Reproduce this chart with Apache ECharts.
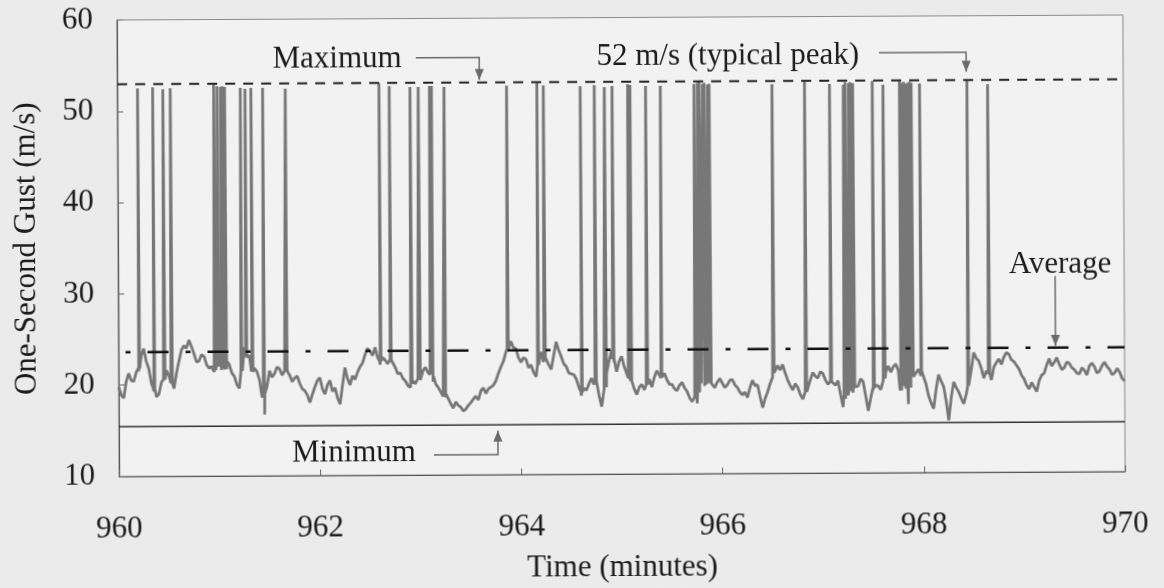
<!DOCTYPE html>
<html><head><meta charset="utf-8">
<script src="https://cdn.jsdelivr.net/npm/echarts@6/dist/echarts.min.js"></script>
<style>
html,body{margin:0;padding:0;background:#ebebeb;overflow:hidden;}
#c{width:1164px;height:588px;transform:rotate(-0.285deg);transform-origin:621px 246px;}
</style>
</head><body><div id="c"></div>
<script>
// ---- axis ticks ----
const xTickValues = [960, 962, 964, 966, 968, 970];
const yTickValues = [10, 20, 30, 40, 50, 60];

// ---- one-second gust record, read every 1.5 s from 960 min ----
const startMinute = 960;
const sampleSeconds = 3;
// readings at 0, 3, 6 ... s
const baseGust = [
  19.8, 18.6, 21.3, 20.4, 21.5, 24.0, 21.8, 19.3, 19.0, 20.8,
  21.0, 19.6, 22.6, 24.3, 24.9, 23.4, 22.6, 23.1, 21.8, 21.4,
  22.4, 21.8, 22.2, 20.9, 19.6, 24.1, 23.2, 21.8, 20.5, 16.7,
  21.5, 21.2, 21.7, 21.5, 21.0, 20.7, 20.1, 19.3, 18.0, 19.7,
  20.7, 18.9, 20.4, 19.6, 17.8, 21.8, 19.9, 20.5, 21.9, 23.2,
  23.6, 24.0, 22.1, 22.6, 22.9, 21.8, 21.2, 20.3, 19.6, 20.0,
  20.6, 21.8, 20.9, 20.0, 19.1, 18.5, 17.8, 18.0, 17.4, 17.2,
  17.9, 18.6, 19.2, 18.9, 19.6, 20.3, 21.8, 23.4, 24.6, 23.8,
  22.3, 22.6, 22.0, 20.7, 23.4, 22.9, 21.5, 24.5, 22.9, 21.8,
  21.0, 20.4, 18.6, 19.2, 20.5, 20.2, 17.4, 21.0, 23.5, 21.2,
  22.9, 21.0, 20.2, 18.7, 19.8, 19.8, 19.5, 21.3, 20.6, 20.3,
  19.8, 19.1, 20.0, 19.0, 17.9, 17.7, 20.0, 20.1, 19.8, 20.0,
  19.9, 19.7, 20.3, 19.4, 18.6, 18.3, 20.2, 19.7, 17.2, 18.9,
  20.5, 21.8, 21.9, 20.2, 19.1, 19.4, 18.1, 19.0, 21.0, 20.4,
  20.9, 19.7, 20.0, 20.1, 17.2, 18.5, 18.8, 19.5, 20.0, 16.8,
  19.0, 19.5, 20.1, 21.7, 21.6, 21.2, 20.8, 17.5, 20.5, 21.3,
  21.1, 18.4, 17.0, 20.7, 19.4, 15.7, 19.9, 18.8, 17.5, 19.5,
  23.1, 22.2, 20.3, 20.6, 21.5, 22.4, 22.6, 22.9, 22.1, 21.3,
  20.2, 19.1, 19.3, 20.0, 20.8, 22.4, 22.0, 21.8, 21.4, 21.9,
  21.2, 20.7, 21.1, 21.6, 21.5, 21.0, 22.0, 21.2, 20.8, 20.9,
  19.9
];
// readings at 1.5, 4.5, 7.5 ... s
const midGust = [
  18.9, 20.4, 20.5, 21.4, 23.2, 22.6, 20.2, 18.7, 20.3, 21.6,
  20.0, 21.3, 23.8, 24.0, 24.2, 22.5, 23.3, 22.2, 22.0, 22.3,
  21.6, 22.6, 21.3, 20.0, 22.5, 23.4, 22.3, 21.4, 18.6, 19.8,
  20.8, 21.9, 21.0, 21.8, 20.3, 20.9, 19.5, 18.8, 18.9, 20.4,
  19.5, 19.9, 19.2, 18.5, 19.9, 20.6, 20.9, 21.3, 22.3, 23.9,
  23.1, 22.9, 22.9, 22.2, 22.5, 21.1, 20.6, 19.8, 20.3, 20.6,
  21.4, 21.2, 20.2, 19.6, 18.6, 18.9, 17.3, 17.6, 17.0, 17.6,
  18.3, 18.2, 19.5, 19.4, 19.8, 21.1, 22.4, 24.2, 23.9, 22.8,
  22.8, 21.7, 21.2, 22.0, 22.3, 22.0, 23.0, 23.6, 22.1, 21.1,
  20.9, 19.5, 19.4, 19.9, 19.8, 18.6, 19.3, 22.4, 22.2, 22.3,
  21.8, 20.9, 19.3, 19.5, 19.2, 20.4, 20.6, 20.8, 21.0, 19.8,
  19.3, 19.7, 19.4, 18.3, 18.4, 18.9, 19.6, 20.5, 19.4, 20.4,
  19.4, 20.2, 19.7, 18.9, 18.9, 19.4, 19.6, 18.4, 18.2, 19.8,
  21.2, 21.3, 21.0, 19.6, 19.8, 18.6, 18.8, 20.2, 20.6, 21.1,
  20.2, 20.3, 19.6, 18.6, 18.1, 19.1, 19.3, 20.3, 18.4, 18.2,
  19.6, 19.1, 21.0, 21.0, 21.9, 20.7, 19.2, 19.3, 20.9, 20.6,
  19.7, 17.6, 19.1, 20.0, 17.8, 18.2, 19.3, 18.1, 18.6, 21.2,
  22.5, 21.4, 21.1, 20.1, 22.0, 21.8, 23.1, 22.3, 21.7, 20.6,
  19.5, 19.8, 18.8, 20.6, 21.7, 21.6, 22.5, 21.2, 22.0, 21.4,
  20.8, 21.4, 20.6, 21.9, 20.8, 21.6, 21.5, 20.6, 21.3, 20.2
];
// gust spikes: time in seconds after 960 min, peak value, level at the foot
const spikeSeconds = [
  12.1, 21.1, 27.2, 31.6, 57.5, 59.5, 61.5, 62.5, 64.0, 73.4,
  76.2, 79.7, 86.7, 100.2, 156.1, 162.2, 174.6, 179.5, 186.2, 187.4,
  194.9, 232.2, 250.3, 254.1, 276.1, 284.5, 290.5, 295.1, 304.4, 305.8,
  315.1, 323.9, 344.0, 346.0, 347.0, 349.0, 350.0, 352.0, 353.0, 390.5,
  409.9, 424.8, 433.0, 434.0, 436.0, 437.0, 438.6, 450.3, 456.7, 466.5,
  467.5, 469.0, 470.0, 471.5, 472.5, 473.5, 478.5, 506.8, 519.1
];
const spikePeaks = [
  52.5, 52.6, 52.4, 52.5, 52.9, 52.7, 52.6, 52.7, 52.6, 52.5,
  52.4, 52.5, 52.5, 52.4, 52.9, 52.6, 52.5, 52.5, 52.6, 52.6,
  52.5, 52.6, 52.9, 52.6, 52.5, 52.6, 52.4, 52.5, 52.7, 52.6,
  52.5, 52.5, 52.7, 52.8, 52.9, 52.7, 52.8, 52.6, 52.7, 52.6,
  52.9, 52.6, 52.5, 52.8, 52.7, 52.8, 52.7, 52.9, 52.5, 52.9,
  52.7, 52.8, 52.6, 52.7, 52.8, 52.7, 52.6, 52.9, 52.5
];
const spikeFoot = [
  21.8, 19.6, 20.6, 20.2, 21.6, 22.0, 22.1, 22.0, 21.7, 21.5,
  23.0, 21.4, 19.0, 21.4, 22.5, 22.6, 20.0, 20.4, 21.0, 20.8,
  18.8, 23.8, 22.0, 22.8, 19.0, 20.2, 19.5, 22.6, 20.5, 20.2,
  19.8, 20.5, 19.8, 20.0, 19.9, 20.1, 19.8, 20.0, 19.9, 21.0,
  18.9, 20.0, 18.6, 18.8, 19.0, 19.2, 19.4, 19.3, 20.3, 19.0,
  19.5, 20.0, 20.4, 20.8, 21.0, 21.1, 21.1, 19.4, 20.8
];

// ---- reference levels ----
const maximumGust = 52.96;
const averageGust = 23.6;
const minimumGust = 15.45;

// ---- annotations (data coordinates) ----
const annoTexts = ['Maximum', '52 m/s (typical peak)', 'Average', 'Minimum'];
const annoTextPos = [[962.83, 55.6], [967.376, 55.7], [969.364, 32.74], [962.952, 12.45]];
const annoTextAlign = ['right', 'right', 'center', 'right'];
const annoArrows = [
  [[962.97, 55.7], [963.60, 55.7], [963.60, 53.25]],
  [[967.575, 56.0], [968.44, 56.0], [968.44, 53.86]],
  [[969.314, 31.43], [969.314, 23.79]],
  [[963.13, 12.2], [963.767, 12.2], [963.767, 14.81]]
];

const FONT = 'Liberation Serif';
const TXT = '#1c1c1c';

const gustData = [];
baseGust.forEach((v, i) => gustData.push([startMinute + i * sampleSeconds / 60, v]));
midGust.forEach((v, i) => gustData.push([startMinute + (i + 0.5) * sampleSeconds / 60, v]));
spikeSeconds.forEach((s, k) => {
  gustData.push([startMinute + (s - 0.45) / 60, spikeFoot[k]]);
  gustData.push([startMinute + s / 60, spikePeaks[k]]);
  gustData.push([startMinute + (s + 0.45) / 60, spikeFoot[k]]);
});
gustData.sort((a, b) => a[0] - b[0]);

const xMin = xTickValues[0], xMax = xTickValues[xTickValues.length - 1];
const levelLine = (v) => [[xMin, v], [xMax, v]];

const chart = echarts.init(document.getElementById('c'), null, {renderer: 'canvas'});
chart.setOption({
  animation: false,
  backgroundColor: '#ebebeb',
  grid: {left: 118, right: 40, top: 17.5, bottom: 112.5, show: true,
         backgroundColor: '#f2f2f2', borderColor: '#8a8a8a', borderWidth: 1},
  xAxis: {
    type: 'value', min: xMin, max: xMax, interval: 2,
    axisLine: {show: true, lineStyle: {color: '#555', width: 1.2}},
    axisTick: {show: true, inside: true, length: 6, lineStyle: {color: '#666'}},
    splitLine: {show: false},
    axisLabel: {margin: 37, fontFamily: FONT, fontSize: 31, color: TXT,
                formatter: (v) => xTickValues.includes(v) ? String(v) : ''},
    name: 'Time (minutes)', nameLocation: 'middle', nameGap: 78,
    nameTextStyle: {fontFamily: FONT, fontSize: 31, color: TXT}
  },
  yAxis: {
    type: 'value', min: yTickValues[0], max: yTickValues[yTickValues.length - 1], interval: 10,
    axisLine: {show: true, lineStyle: {color: '#555', width: 1.2}},
    axisTick: {show: true, inside: true, length: 6, lineStyle: {color: '#666'}},
    splitLine: {show: false},
    axisLabel: {margin: 24, fontFamily: FONT, fontSize: 31, color: TXT,
                formatter: (v) => yTickValues.includes(v) ? String(v) : ''},
    name: 'One-Second Gust (m/s)', nameLocation: 'middle', nameGap: 76, nameRotate: 90,
    nameTextStyle: {fontFamily: FONT, fontSize: 31, color: TXT}
  },
  series: [
    {type: 'line', data: levelLine(minimumGust), symbol: 'none', silent: true,
     lineStyle: {color: '#333', width: 1.5}, z: 3},
    {type: 'line', data: gustData, symbol: 'none', silent: true,
     lineStyle: {color: '#777777', width: 2.8}, z: 4},
    {type: 'line', data: levelLine(maximumGust), symbol: 'none', silent: true,
     lineStyle: {color: '#222', width: 2, type: [10, 8]}, z: 5},
    {type: 'line', data: levelLine(averageGust), symbol: 'none', silent: true,
     lineStyle: {color: '#111', width: 2.5, type: [21, 17, 5, 17], dashOffset: 31}, z: 5},
    {type: 'lines', coordinateSystem: 'cartesian2d', polyline: true, silent: true,
     lineStyle: {color: '#6a6a6a', width: 1.5, opacity: 1},
     data: annoArrows.map(c => ({coords: c})), z: 6}
  ]
});

const gfx = [];
annoTexts.forEach((t, k) => {
  const p = chart.convertToPixel({gridIndex: 0}, annoTextPos[k]);
  gfx.push({type: 'text', x: p[0], y: p[1], z: 10,
            style: {text: t, fill: TXT, font: '31px "' + FONT + '"',
                    align: annoTextAlign[k], verticalAlign: 'middle'}});
});
annoArrows.forEach((c) => {
  const tip = chart.convertToPixel({gridIndex: 0}, c[c.length - 1]);
  const prev = chart.convertToPixel({gridIndex: 0}, c[c.length - 2]);
  const dx = tip[0] - prev[0], dy = tip[1] - prev[1];
  const len = Math.hypot(dx, dy) || 1;
  const ux = dx / len, uy = dy / len;
  const L = 11, W = 4.5;
  const bx = tip[0] - ux * L, by = tip[1] - uy * L;
  gfx.push({type: 'polygon', z: 11,
            shape: {points: [tip, [bx - uy * W, by + ux * W], [bx + uy * W, by - ux * W]]},
            style: {fill: '#6a6a6a'}});
});
chart.setOption({graphic: gfx});
</script>
</body></html>
